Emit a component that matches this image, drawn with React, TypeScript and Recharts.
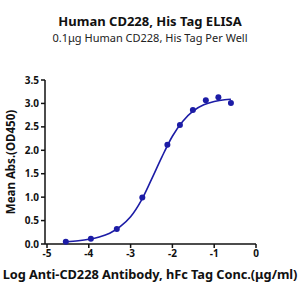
import React from 'react';
import { ComposedChart, Line, Scatter, XAxis, YAxis } from 'recharts';

const logConc = [-4.55, -3.95, -3.33, -2.72, -2.12, -1.82, -1.51, -1.2, -0.9, -0.6];
const meanAbs = [0.05, 0.11, 0.32, 0.99, 2.12, 2.54, 2.86, 3.07, 3.13, 3.01];

const curveX = [-4.55, -4.25, -4.0, -3.75, -3.5, -3.25, -3.0, -2.75, -2.5, -2.25, -2.0, -1.75, -1.5, -1.25, -1.0, -0.75, -0.6];
const curveY = [0.05, 0.07, 0.1, 0.15, 0.23, 0.37, 0.58, 0.92, 1.38, 1.86, 2.3, 2.62, 2.84, 2.97, 3.04, 3.08, 3.09];

const xTicks = [-5, -4, -3, -2, -1, 0];
const yTicks = [0, 0.5, 1.0, 1.5, 2.0, 2.5, 3.0, 3.5];

const points = logConc.map((x, i) => ({ x, y: meanAbs[i] }));
const curve = curveX.map((x, i) => ({ x, y: curveY[i] }));

const COLOR = '#1c1ca6';
const FONT = '"Noto Sans", "Open Sans", sans-serif';

export default function App() {
  return (
    <div style={{ position: 'absolute', left: 0, top: 0, width: 300, height: 300, background: '#fff', fontFamily: FONT }}>
      <div style={{ position: 'absolute', top: 12, left: 0, width: 300, textAlign: 'center', fontWeight: 700, fontSize: 13, color: '#111' }}>
        Human CD228, His Tag ELISA
      </div>
      <div style={{ position: 'absolute', top: 30, left: 0, width: 300, textAlign: 'center', fontSize: 11, color: '#222' }}>
        0.1μg Human CD228, His Tag Per Well
      </div>
      <ComposedChart width={300} height={300} margin={{ top: 80, right: 44, left: 0, bottom: 0 }}>
        <XAxis
          type="number"
          dataKey="x"
          domain={[-5, 0]}
          ticks={xTicks}
          allowDataOverflow
          height={56}
          padding={{ left: 2, right: 0 }}
          stroke="#111"
          strokeWidth={1.5}
          tickSize={4}
          tick={{ fill: '#111', fontSize: 10, fontWeight: 700, fontFamily: FONT }}
          tickFormatter={(v: number) => String(v)}
        />
        <YAxis
          type="number"
          dataKey="y"
          domain={[0, 3.5]}
          ticks={yTicks}
          width={45}
          stroke="#111"
          strokeWidth={1.5}
          tickSize={4}
          tick={{ fill: '#111', fontSize: 10, fontWeight: 700, fontFamily: FONT }}
          tickFormatter={(v: number) => v.toFixed(1)}
        />
        <Line
          data={curve}
          dataKey="y"
          type="monotone"
          stroke={COLOR}
          strokeWidth={1.6}
          dot={false}
          isAnimationActive={false}
        />
        <Scatter data={points} dataKey="y" fill={COLOR} shape={(p: any) => <circle cx={p.cx} cy={p.cy} r={3} fill={COLOR} />} isAnimationActive={false} />
      </ComposedChart>
      <div style={{ position: 'absolute', left: 11 - 60, top: 162 - 8, width: 120, height: 16, lineHeight: '16px', textAlign: 'center', transform: 'rotate(-90deg)', fontWeight: 700, fontSize: 11.5, color: '#111', whiteSpace: 'nowrap' }}>
        Mean Abs.(OD450)
      </div>
      <div style={{ position: 'absolute', top: 265, left: 0, width: 300, textAlign: 'center', fontWeight: 700, fontSize: 12.8, letterSpacing: -0.05, color: '#111', whiteSpace: 'nowrap' }}>
        Log Anti-CD228 Antibody, hFc Tag Conc.(μg/ml)
      </div>
    </div>
  );
}
